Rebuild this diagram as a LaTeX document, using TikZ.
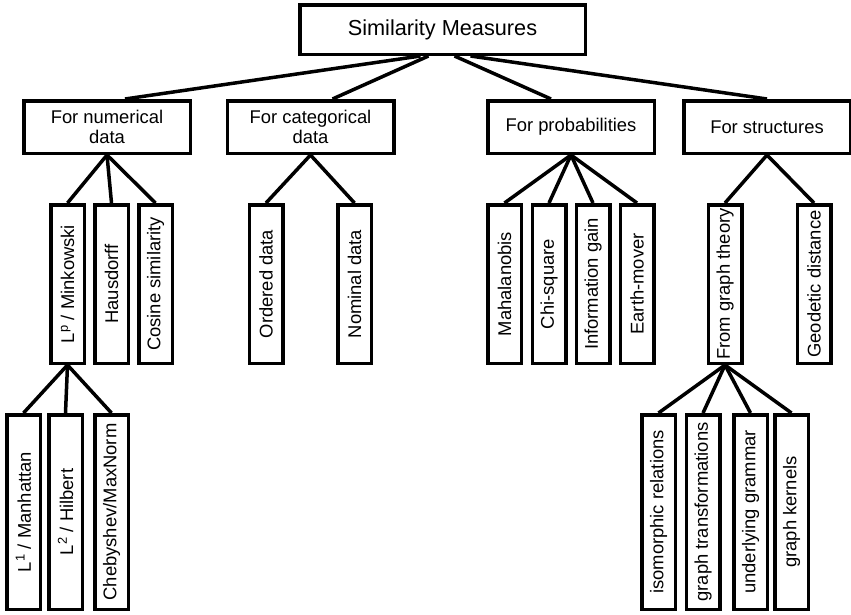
\documentclass[tikz,border=0pt]{standalone}
\usepackage{fontspec}
\setmainfont{Liberation Sans}
\tikzset{
  box/.style={draw, line width=3.5pt, inner sep=0pt},
  topbox/.style={box, minimum width=285.5pt, minimum height=49.5pt,
    font=\fontsize{21.7}{26}\selectfont},
  groupbox/.style={box, minimum width=166.5pt, minimum height=52.5pt, align=center,
    font=\fontsize{18.4}{20.5}\selectfont},
  midbox/.style={box, minimum width=33.5pt, minimum height=158.5pt,
    font=\fontsize{18.4}{21}\selectfont},
  leafbox/.style={box, minimum width=33.5pt, minimum height=194.5pt,
    font=\fontsize{18.4}{21}\selectfont},
  link/.style={line width=3.5pt}
}
\newcommand{\vtext}[1]{\rotatebox{90}{#1}}
\begin{document}
\begin{tikzpicture}[x=1pt, y=-1pt]
    \def\ymid{284}
    \def\yleaf{512}
    \useasboundingbox (0,0) rectangle (851,614);

    % root
    \node[topbox] (root) at (442.5,29.5) {Similarity Measures};

    % groups
    \node[groupbox] (num) at (107,127) {For numerical\\data};
    \node[groupbox] (cat) at (310.5,127) {For categorical\\data};
    \node[groupbox] (prob) at (571,127) {For probabilities};
    \node[groupbox] (struct) at (767,127) {For structures};

    \draw[link] ([xshift=-22pt]root.south) -- ([xshift=18pt]num.north);
    \draw[link] ([xshift=-14pt]root.south) -- ([xshift=22pt]cat.north);
    \draw[link] ([xshift=12pt]root.south) -- ([xshift=-20pt]prob.north);
    \draw[link] ([xshift=28pt]root.south) -- ([xshift=0pt]struct.north);

    % numerical data
    \node[midbox] (minkowski) at (67.5,\ymid) {\vtext{L\textsuperscript{p} / Minkowski}};
    \node[midbox] (hausdorff) at (111.5,\ymid) {\vtext{Hausdorff}};
    \node[midbox] (cosine) at (155.5,\ymid) {\vtext{Cosine similarity}};
    \foreach \n in {minkowski,hausdorff,cosine}
        \draw[link] (num.south) -- (\n.north);

    \node[leafbox] (manhattan) at (23.5,\yleaf) {\vtext{L\textsuperscript{1} / Manhattan}};
    \node[leafbox] (hilbert) at (65.5,\yleaf) {\vtext{L\textsuperscript{2} / Hilbert}};
    \node[leafbox] (chebyshev) at (111.5,\yleaf) {\vtext{Chebyshev/MaxNorm}};
    \foreach \n in {manhattan,hilbert,chebyshev}
        \draw[link] (minkowski.south) -- (\n.north);

    % categorical data
    \node[midbox] (ordered) at (266,\ymid) {\vtext{Ordered data}};
    \node[midbox] (nominal) at (354.5,\ymid) {\vtext{Nominal data}};
    \foreach \n in {ordered,nominal}
        \draw[link] (cat.south) -- (\n.north);

    % probabilities
    \node[midbox] (mahalanobis) at (504.5,\ymid) {\vtext{Mahalanobis}};
    \node[midbox] (chisquare) at (549,\ymid) {\vtext{Chi-square}};
    \node[midbox] (infogain) at (593,\ymid) {\vtext{Information gain}};
    \node[midbox] (earthmover) at (637,\ymid) {\vtext{Earth-mover}};
    \foreach \n in {mahalanobis,chisquare,infogain,earthmover}
        \draw[link] (prob.south) -- (\n.north);

    % structures
    \node[midbox] (graphtheory) at (725,\ymid) {\vtext{From graph theory}};
    \node[midbox] (geodetic) at (814,\ymid) {\vtext{Geodetic distance}};
    \foreach \n in {graphtheory,geodetic}
        \draw[link] (struct.south) -- (\n.north);

    \node[leafbox] (isomorphic) at (658.5,\yleaf) {\vtext{isomorphic relations}};
    \node[leafbox] (transform) at (703,\yleaf) {\vtext{graph transformations}};
    \node[leafbox] (grammar) at (750.5,\yleaf) {\vtext{underlying grammar}};
    \node[leafbox] (kernels) at (791.5,\yleaf) {\vtext{graph kernels}};
    \foreach \n in {isomorphic,transform,grammar,kernels}
        \draw[link] (graphtheory.south) -- (\n.north);
\end{tikzpicture}
\end{document}
